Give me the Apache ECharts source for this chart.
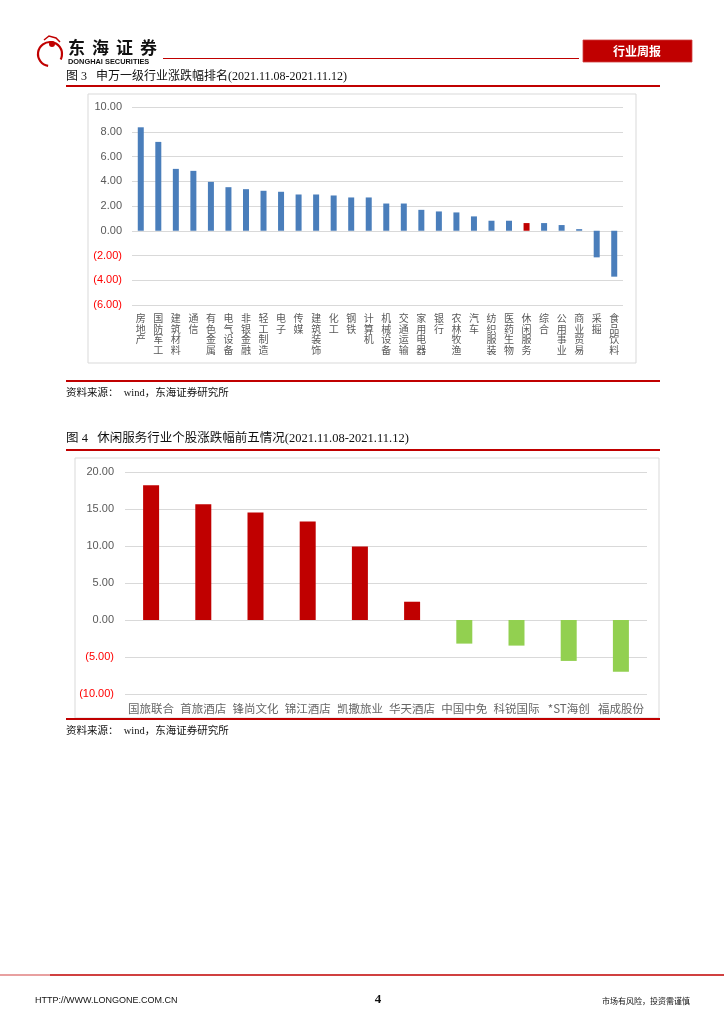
<!DOCTYPE html>
<html>
<head>
<meta charset="utf-8">
<script src="https://cdn.jsdelivr.net/npm/echarts@6/dist/echarts.min.js"></script>
<style>
html,body{margin:0;padding:0;background:#fff;}
#main{width:724px;height:1024px;}
</style>
</head>
<body>
<div id="main"></div>
<script>
// ---- Data ----
const industries = ['房地产','国防军工','建筑材料','通信','有色金属','电气设备','非银金融','轻工制造','电子','传媒','建筑装饰','化工','钢铁','计算机','机械设备','交通运输','家用电器','银行','农林牧渔','汽车','纺织服装','医药生物','休闲服务','综合','公用事业','商业贸易','采掘','食品饮料'];
const industryChange = [8.36,7.18,5.00,4.84,3.95,3.52,3.36,3.23,3.15,2.93,2.93,2.85,2.69,2.69,2.20,2.20,1.69,1.56,1.48,1.16,0.81,0.81,0.62,0.62,0.46,0.13,-2.15,-3.71];
const highlightIndustry = '休闲服务';

const stocks = ['国旅联合','首旅酒店','锋尚文化','锦江酒店','凯撒旅业','华天酒店','中国中免','科锐国际','*ST海创','福成股份'];
const stockChange = [18.2,15.64,14.52,13.3,9.93,2.47,-3.19,-3.46,-5.53,-7.0];

const title1 = '图 3   申万一级行业涨跌幅排名(2021.11.08-2021.11.12)';
const title2 = '图 4   休闲服务行业个股涨跌幅前五情况(2021.11.08-2021.11.12)';
const sourceText = '资料来源：  wind，东海证券研究所';
const logoChars = ['东','海','证','券'];

// ---- Styles ----
const RED = '#C00000';
const BLUE = '#4A7EBB';
const GREEN = '#92D050';
const GRAY = '#595959';
const GRID = '#D9D9D9';
const CJK = '"Liberation Serif","Noto Sans CJK SC",serif';
const AX = '"Liberation Sans","Noto Sans CJK SC",sans-serif';

function yFmt(v){
  if (v < 0) return '{n|(' + Math.abs(v).toFixed(2) + ')}';
  return '{p|' + v.toFixed(2) + '}';
}
const yRich = {
  n:{color:'#FF0000', fontSize:11, fontFamily:AX},
  p:{color:GRAY, fontSize:11, fontFamily:AX}
};

const chart = echarts.init(document.getElementById('main'), null, {renderer:'canvas'});

const logoGraphics = logoChars.map((c,i)=>({type:'text', x:68+i*24, y:39,
  style:{text:c, font:'bold 17px "Noto Sans CJK SC"', fill:'#111'}}));

const option = {
  animation:false,
  backgroundColor:'#fff',
  grid:[
    {left:132, right:101, top:107, bottom:719, containLabel:false},
    {left:125, right:77, top:472, bottom:330, containLabel:false}
  ],
  xAxis:[
    {type:'category', gridIndex:0, data:industries,
      axisLine:{show:false}, axisTick:{show:false},
      axisLabel:{interval:0, color:GRAY, fontSize:10, lineHeight:10.6, margin:8,
        fontFamily:'"Noto Sans CJK SC",sans-serif', verticalAlign:'top',
        formatter:v=>v.split('').join('\n')}},
    {type:'category', gridIndex:1, data:stocks,
      axisLine:{show:false}, axisTick:{show:false},
      axisLabel:{interval:0, color:'#666', fontSize:11.5, margin:9,
        fontFamily:'"Noto Sans CJK SC",sans-serif'}}
  ],
  yAxis:[
    {type:'value', gridIndex:0, min:-6, max:10, interval:2,
      axisLine:{show:false}, axisTick:{show:false},
      splitLine:{lineStyle:{color:GRID, width:1}},
      axisLabel:{formatter:yFmt, rich:yRich, margin:10}},
    {type:'value', gridIndex:1, min:-10, max:20, interval:5,
      axisLine:{show:false}, axisTick:{show:false},
      splitLine:{lineStyle:{color:GRID, width:1}},
      axisLabel:{formatter:yFmt, rich:yRich, margin:11}}
  ],
  series:[
    {type:'bar', xAxisIndex:0, yAxisIndex:0, barWidth:6,
      data:industryChange.map((v,i)=>({value:v, itemStyle:{color: industries[i]===highlightIndustry ? RED : BLUE}}))},
    {type:'bar', xAxisIndex:1, yAxisIndex:1, barWidth:16,
      data:stockChange.map(v=>({value:v, itemStyle:{color: v>=0 ? RED : GREEN}}))}
  ],
  graphic:[
    // chart boxes
    {type:'rect', shape:{x:88, y:94, width:548, height:269}, style:{fill:'none', stroke:'#D9D9D9', lineWidth:1}, z:-1},
    {type:'rect', shape:{x:75, y:458, width:584, height:260}, style:{fill:'none', stroke:'#D9D9D9', lineWidth:1}, z:-1},
    // header logo
    {type:'arc', shape:{cx:50, cy:54, r:12, startAngle:Math.PI*0.55, endAngle:Math.PI*2.15}, style:{stroke:RED, lineWidth:2.2, fill:'none'}},
    {type:'circle', shape:{cx:52, cy:44, r:3}, style:{fill:RED}},
    {type:'polyline', shape:{points:[[44,40],[49,36],[56,38],[60,42]]}, style:{stroke:RED, lineWidth:1.5, fill:'none'}},
    ...logoGraphics,
    {type:'text', x:68, y:58, style:{text:'DONGHAI SECURITIES', font:'bold 7.4px "Liberation Sans"', fill:'#111'}},
    {type:'line', shape:{x1:163, y1:58.5, x2:579, y2:58.5}, style:{stroke:RED, lineWidth:1.2}},
    {type:'rect', shape:{x:583, y:40, width:109, height:22}, style:{fill:RED, stroke:'#D04040', lineWidth:0.8}},
    {type:'text', x:637, y:51, style:{text:'行业周报', font:'bold 12px "Noto Sans CJK SC"', fill:'#fff', align:'center', verticalAlign:'middle'}},
    // figure 3 title
    {type:'text', x:66, y:77, style:{text:title1, font:'12px '+CJK, fill:'#111', verticalAlign:'middle'}},
    {type:'line', shape:{x1:66, y1:86, x2:660, y2:86}, style:{stroke:RED, lineWidth:2}},
    {type:'line', shape:{x1:66, y1:381, x2:660, y2:381}, style:{stroke:RED, lineWidth:2}},
    {type:'text', x:66, y:393, style:{text:sourceText, font:'10.5px '+CJK, fill:'#111', verticalAlign:'middle'}},
    // figure 4 title
    {type:'text', x:66, y:439, style:{text:title2, font:'12.5px '+CJK, fill:'#111', verticalAlign:'middle'}},
    {type:'line', shape:{x1:66, y1:450, x2:660, y2:450}, style:{stroke:RED, lineWidth:2}},
    {type:'line', shape:{x1:66, y1:719, x2:660, y2:719}, style:{stroke:RED, lineWidth:2}},
    {type:'text', x:66, y:731, style:{text:sourceText, font:'10.5px '+CJK, fill:'#111', verticalAlign:'middle'}},
    // footer
    {type:'line', shape:{x1:0, y1:975, x2:50, y2:975}, style:{stroke:'#E08080', lineWidth:1.5}},
    {type:'line', shape:{x1:50, y1:975, x2:724, y2:975}, style:{stroke:RED, lineWidth:1.5}},
    {type:'text', x:35, y:1001, style:{text:'HTTP://WWW.LONGONE.COM.CN', font:'9px "Liberation Sans Narrow","Liberation Sans"', fill:'#111', verticalAlign:'middle'}},
    {type:'text', x:378, y:1000, style:{text:'4', font:'bold 13px "Liberation Serif"', fill:'#111', align:'center', verticalAlign:'middle'}},
    {type:'text', x:690, y:1001, style:{text:'市场有风险，投资需谨慎', font:'8px "Noto Sans CJK SC"', fill:'#111', align:'right', verticalAlign:'middle'}}
  ]
};
chart.setOption(option);
</script>
</body>
</html>
